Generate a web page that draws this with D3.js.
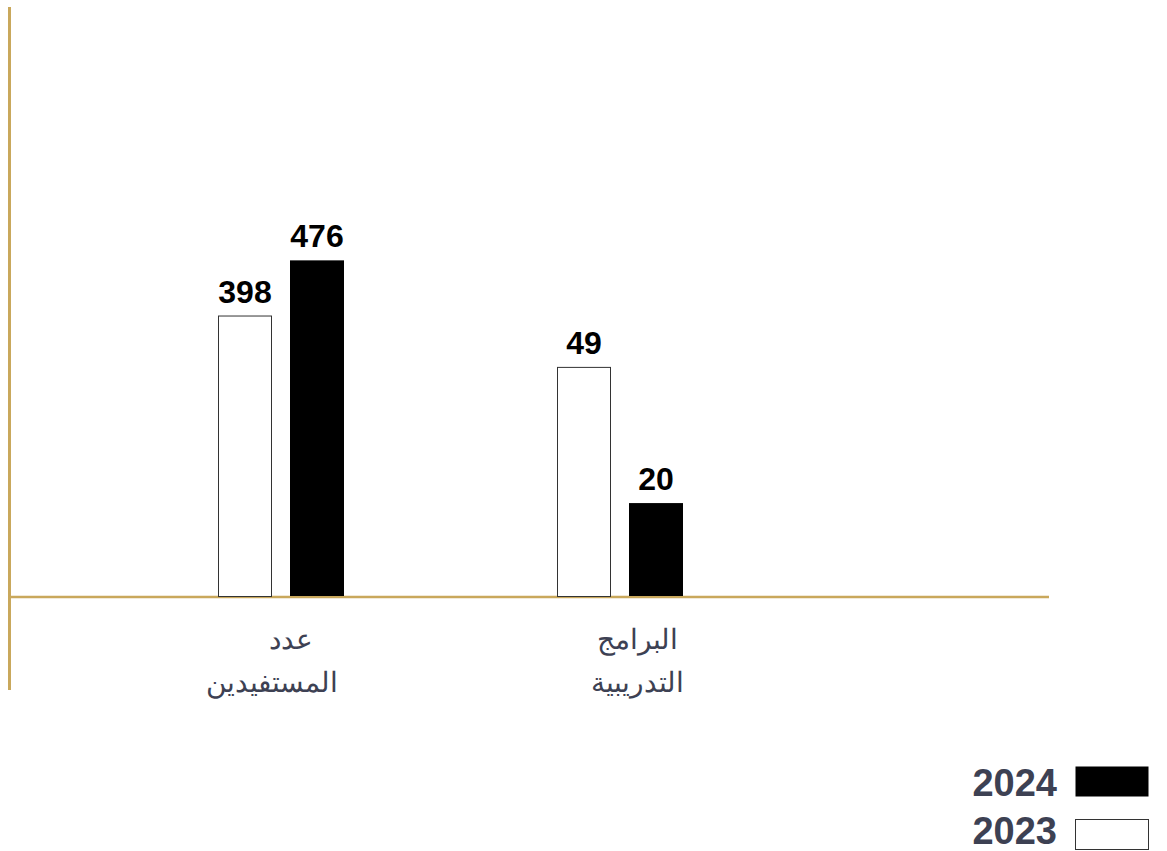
<!DOCTYPE html>
<html>
<head>
<meta charset="utf-8">
<script src="https://cdn.jsdelivr.net/npm/d3@7/dist/d3.min.js"></script>
<style>
  html, body { margin: 0; padding: 0; background: #ffffff; }
  svg { display: block; }
</style>
</head>
<body>
<svg id="chart" width="1167" height="851"></svg>
<script>
// Categories (two-line Arabic labels)
const categories = ["عدد المستفيدين", "البرامج التدريبية"];
const categoryLines = [["عدد", "المستفيدين"], ["البرامج", "التدريبية"]];
// Each category is drawn on its own value scale
const categoryScaleMax = [830, 125];
// Series
const years = ["2023", "2024"];
const values2023 = [398, 49];
const values2024 = [476, 20];

const axisColor = "#c9a85c";
const textColor = "#3d4153";
const baseY = 597, topY = 10;

const svg = d3.select("#chart");

const x = d3.scaleBand().domain(categories).range([111.5, 789.5]);
const xs = d3.scaleBand().domain(years).range([-63, 63]).paddingInner(0.25).paddingOuter(0);

const series = [
  { year: "2023", values: values2023, fill: "#ffffff", stroke: "#333333" },
  { year: "2024", values: values2024, fill: "#000000", stroke: "none" }
];

const yScales = categoryScaleMax.map(m => d3.scaleLinear().domain([0, m]).range([baseY, topY]));

// Axis lines
svg.append("line").attr("x1", 9.5).attr("x2", 9.5).attr("y1", 7).attr("y2", 690)
  .attr("stroke", axisColor).attr("stroke-width", 3);
svg.append("line").attr("x1", 9).attr("x2", 1049).attr("y1", baseY).attr("y2", baseY)
  .attr("stroke", axisColor).attr("stroke-width", 2.5);

// Per-line horizontal nudges for the category labels
const labelShift = [[10, -9], [17, 17]];

// Bars and value labels
categories.forEach((cat, i) => {
  const cx = x(cat) + x.bandwidth() / 2;
  const y = yScales[i];
  series.forEach(s => {
    const v = s.values[i];
    const bx = cx + xs(s.year);
    const bw = xs.bandwidth();
    const outlined = s.stroke !== "none";
    svg.append("rect")
      .attr("x", bx + (outlined ? 0.5 : 0))
      .attr("y", y(v) + (outlined ? 0.5 : 0))
      .attr("width", bw - (outlined ? 1 : 0))
      .attr("height", baseY - 1 - y(v))
      .attr("fill", s.fill)
      .attr("stroke", s.stroke)
      .attr("stroke-width", 1);
    svg.append("text")
      .attr("x", bx + bw / 2)
      .attr("y", y(v) - 13)
      .attr("text-anchor", "middle")
      .attr("font-family", "Liberation Sans, Arial, sans-serif")
      .attr("font-weight", "bold")
      .attr("font-size", 32)
      .attr("fill", "#000")
      .text(d3.format("d")(v));
  });

  // Category label
  const lbl = svg.append("text")
    .attr("text-anchor", "middle")
    .attr("direction", "rtl")
    .attr("font-family", "DejaVu Sans, sans-serif")
    .attr("font-weight", 300)
    .attr("font-size", 28)
    .attr("fill", textColor);
  categoryLines[i].forEach((ln, j) => {
    lbl.append("tspan").attr("x", cx + labelShift[i][j]).attr("y", 649 + j * 43).text(ln);
  });
});

// Legend
const legend = [
  { year: "2024", fill: "#000000", stroke: "none", y: 766, ty: 796 },
  { year: "2023", fill: "#ffffff", stroke: "#333333", y: 819, ty: 844 }
];
legend.forEach(l => {
  svg.append("rect")
    .attr("x", 1075.5).attr("y", l.y + 0.5)
    .attr("width", 73).attr("height", 30)
    .attr("fill", l.fill).attr("stroke", l.stroke).attr("stroke-width", 1);
  svg.append("text")
    .attr("x", 1057).attr("y", l.ty)
    .attr("text-anchor", "end")
    .attr("font-family", "Liberation Sans, Arial, sans-serif")
    .attr("font-weight", "bold")
    .attr("font-size", 38)
    .attr("fill", textColor)
    .text(l.year);
});
</script>
</body>
</html>
